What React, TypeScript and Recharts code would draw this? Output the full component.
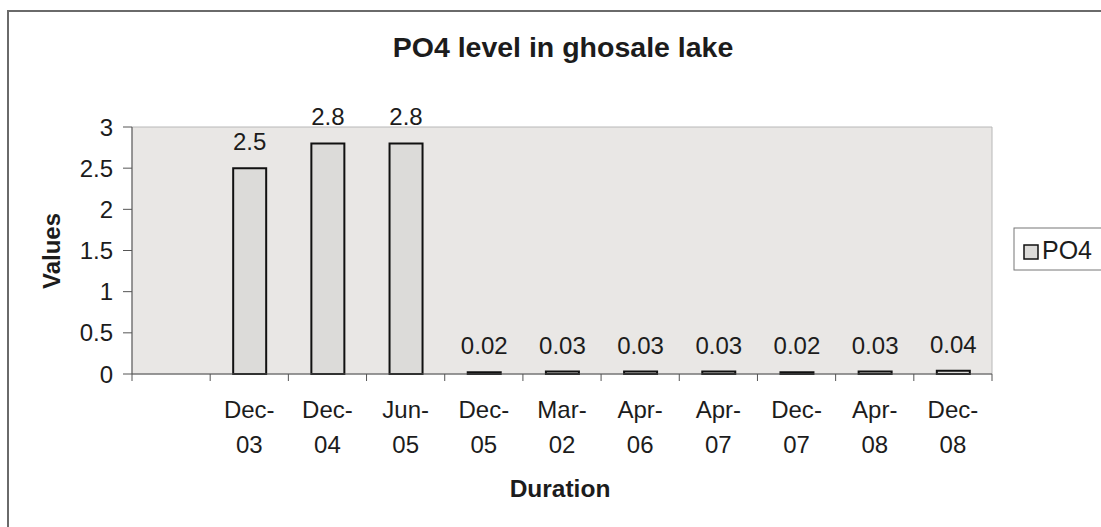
import { Bar, BarChart, LabelList, ReferenceArea, XAxis, YAxis } from 'recharts';

// PO4 readings, first slot is an empty category like in the original sheet
const categories = ['', 'Dec-03', 'Dec-04', 'Jun-05', 'Dec-05', 'Mar-02', 'Apr-06', 'Apr-07', 'Dec-07', 'Apr-08', 'Dec-08'];
const po4Values: (number | null)[] = [null, 2.5, 2.8, 2.8, 0.02, 0.03, 0.03, 0.03, 0.02, 0.03, 0.04];
const yTicks = [0, 0.5, 1, 1.5, 2, 2.5, 3];

const data = categories.map((duration, i) => ({ duration, PO4: po4Values[i] }));

const W = 1101;
const H = 527;
const PLOT_LEFT = 132;
const PLOT_RIGHT = 992;
const PLOT_TOP = 127;
const PLOT_BOTTOM = 374;
const band = (PLOT_RIGHT - PLOT_LEFT) / categories.length;

const font = '"Liberation Sans", Arial, sans-serif';
const ink = '#1c1c1c';

function DurationTick({ x, y, payload, index }: any) {
  const label = String(payload.value ?? '');
  const [month, year] = label.split('-');
  return (
    <g>
      <line x1={x - band / 2} x2={x - band / 2} y1={y} y2={y + 7} stroke="#555" />
      {index === categories.length - 1 && (
        <line x1={x + band / 2} x2={x + band / 2} y1={y} y2={y + 7} stroke="#555" />
      )}
      {label && (
        <text textAnchor="middle" fontSize={24} fill={ink} fontFamily={font}>
          <tspan x={x} y={y + 44}>{month}-</tspan>
          <tspan x={x} y={y + 79}>{year}</tspan>
        </text>
      )}
    </g>
  );
}

export default function App() {
  return (
    <div style={{ position: 'absolute', left: 0, top: 0, width: W, height: H, overflow: 'hidden', background: '#fff' }}>
      <div
        style={{
          position: 'absolute',
          left: 7,
          top: 10,
          width: 1200,
          height: 700,
          borderLeft: '2px solid #6a6a6a',
          borderTop: '2px solid #6a6a6a',
        }}
      />
      <BarChart
        width={W}
        height={H}
        data={data}
        margin={{ top: PLOT_TOP, right: W - PLOT_RIGHT, bottom: H - PLOT_BOTTOM - 100, left: 0 }}
        style={{ position: 'absolute', left: 0, top: 0 }}
      >
        <ReferenceArea y1={0} y2={3} fill="#e9e7e5" fillOpacity={1} stroke="#b8b8b8" strokeWidth={1} />
        <XAxis
          dataKey="duration"
          interval={0}
          height={100}
          tickLine={false}
          tickSize={0}
          tickMargin={0}
          stroke="#555"
          tick={DurationTick}
        />
        <YAxis
          width={PLOT_LEFT}
          domain={[0, 3]}
          ticks={yTicks}
          tickSize={9}
          tickMargin={10}
          stroke="#555"
          tick={{ fontSize: 24, fill: ink, fontFamily: font }}
        />
        <Bar dataKey="PO4" fill="#dcdbd9" stroke="#111" strokeWidth={2} barSize={33} isAnimationActive={false}>
          <LabelList
            dataKey="PO4"
            position="top"
            offset={18}
            fontSize={24}
            fill={ink}
            fontFamily={font}
            formatter={(v: any) => (v == null ? '' : v)}
          />
        </Bar>
      </BarChart>
      <svg width={W} height={H} style={{ position: 'absolute', left: 0, top: 0, pointerEvents: 'none' }}>
        <text x={563} y={57} textAnchor="middle" fontSize={28.5} fontWeight="bold" fill={ink} fontFamily={font}>
          PO4 level in ghosale lake
        </text>
        <text
          transform="translate(60,251) rotate(-90)"
          textAnchor="middle"
          fontSize={24}
          fontWeight="bold"
          fill={ink}
          fontFamily={font}
        >
          Values
        </text>
        <text x={560} y={497} textAnchor="middle" fontSize={24.5} fontWeight="bold" fill={ink} fontFamily={font}>
          Duration
        </text>
        <rect x={1014} y={228} width={90} height={42} fill="#fff" stroke="#777" />
        <rect x={1024} y={245} width={14} height={14} fill="#dcdbd9" stroke="#111" strokeWidth={1.5} />
        <text x={1042} y={259} fontSize={25} fill={ink} fontFamily={font}>
          PO4
        </text>
      </svg>
    </div>
  );
}
